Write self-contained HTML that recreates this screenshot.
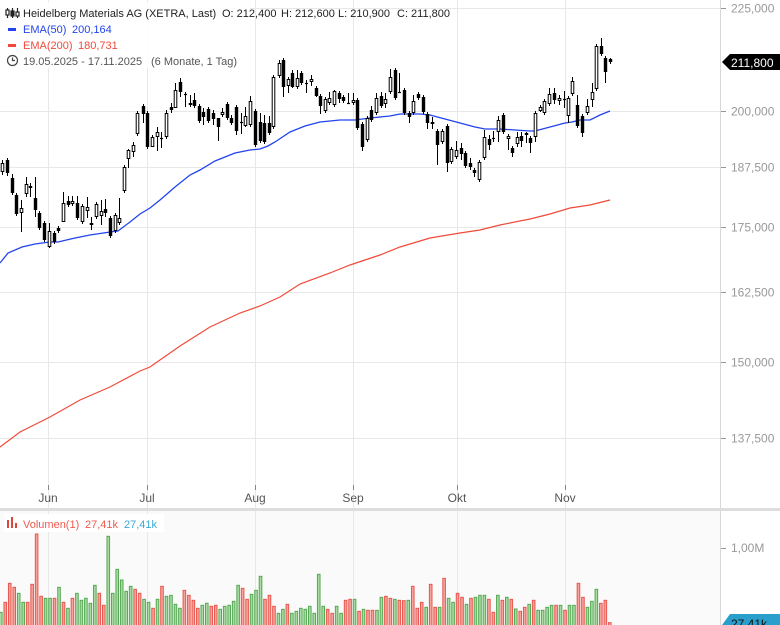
<!DOCTYPE html>
<html><head><meta charset="utf-8">
<style>
html,body{margin:0;padding:0;background:#fff;}
svg{display:block;font-family:"Liberation Sans",Arial,sans-serif;}
text{white-space:pre;}
</style></head>
<body>
<svg id="s" width="780" height="625" viewBox="0 0 780 625" xmlns="http://www.w3.org/2000/svg">
<rect x="0" y="0" width="780" height="625" fill="#fff"/>
<rect x="0" y="511" width="720" height="114" fill="#fafafa"/>
<g id="grid" stroke="#e8e8e8" stroke-width="1"></g>
<line x1="720.5" y1="0" x2="720.5" y2="625" stroke="#d8d8d8"/>
<rect x="0" y="508" width="780" height="3" fill="#ddd"/>
<g id="vol"></g>
<polyline id="ema200" fill="none" stroke="#f04a3a" stroke-width="1.2"/>
<polyline id="ema50" fill="none" stroke="#2244ee" stroke-width="1.3"/>
<g id="labels0" font-size="12"></g>
<g id="candles"></g>
<g id="labels" font-size="12"></g>
<g id="hdr" font-size="11"></g>
</svg>
<script>
var NS="http://www.w3.org/2000/svg";
function el(p,t,a,txt){var e=document.createElementNS(NS,t);for(var k in a)e.setAttribute(k,a[k]);if(txt!==undefined){e.textContent=txt;}p.appendChild(e);return e;}
var g=document.getElementById('grid'),L=document.getElementById('labels'),L0=document.getElementById('labels0'),H=document.getElementById('hdr');
function Y(p){return 8+(Math.log(225000)-Math.log(p))*873;}
var prices=[[225000,"225,000"],[200000,"200,000"],[187500,"187,500"],[175000,"175,000"],[162500,"162,500"],[150000,"150,000"],[137500,"137,500"]];
prices.forEach(function(p){var y=Math.round(Y(p[0]))+0.5;el(g,'line',{x1:0,y1:y,x2:720,y2:y});
 el(L,'line',{x1:721,y1:y,x2:726,y2:y,stroke:'#999'});el(L,'text',{x:731,y:y+4,fill:'#999'},p[1]);});
var months=[[48,"Jun"],[147,"Jul"],[255,"Aug"],[353,"Sep"],[457,"Okt"],[565,"Nov"]];
months.forEach(function(m){el(g,'line',{x1:m[0]+.5,y1:0,x2:m[0]+.5,y2:625});
 el(L,'line',{x1:m[0]+.5,y1:485,x2:m[0]+.5,y2:490,stroke:'#888'});
 el(L,'text',{x:m[0],y:502,fill:'#555','text-anchor':'middle'},m[1]);});
el(L,'line',{x1:721,y1:548.5,x2:726,y2:548.5,stroke:'#999'});
el(L,'text',{x:731,y:552,fill:'#999'},"1,00M");
el(L,'path',{d:"M722 62 L730 54 H780 V70 H730 Z",fill:"#000"});
el(L,'text',{x:731,y:67,fill:'#fff'},"211,800");
el(L,'path',{d:"M722 625 L730 614 H780 V625 Z",fill:"#2a9fcc"});
el(L,'text',{x:731,y:628,fill:'#111'},"27,41k");
var ic=el(H,'g',{stroke:'#222','stroke-width':1.2,fill:'none'});
el(ic,'line',{x1:7.5,y1:8,x2:7.5,y2:18});el(ic,'rect',{x:6,y:10,width:3,height:5,fill:'#fff'});
el(ic,'line',{x1:12.5,y1:8,x2:12.5,y2:18});el(ic,'rect',{x:11,y:11,width:3,height:5,fill:'#222'});
el(ic,'line',{x1:17.5,y1:8,x2:17.5,y2:18});el(ic,'rect',{x:16,y:12,width:3,height:4,fill:'#fff'});
el(L0,'rect',{x:0,y:2,width:250,height:66,fill:'#fff','fill-opacity':0.85});
el(H,'text',{x:23,y:17,fill:'#222'},"Heidelberg Materials AG (XETRA, Last)");
el(H,'text',{x:222,y:17,fill:'#222'},"O: 212,400");
el(H,'text',{x:281,y:17,fill:'#222'},"H: 212,600");
el(H,'text',{x:338,y:17,fill:'#222'},"L: 210,900");
el(H,'text',{x:397,y:17,fill:'#222'},"C: 211,800");
el(H,'rect',{x:8,y:28,width:8,height:3,fill:'#2244ee'});
el(H,'text',{x:23,y:33,fill:'#2244ee'},"EMA(50)");
el(H,'text',{x:72,y:33,fill:'#2244ee'},"200,164");
el(H,'rect',{x:8,y:44,width:8,height:3,fill:'#f04a3a'});
el(H,'text',{x:23,y:49,fill:'#f04a3a'},"EMA(200)");
el(H,'text',{x:78,y:49,fill:'#f04a3a'},"180,731");
el(H,'circle',{cx:12.5,cy:60.5,r:5,fill:'none',stroke:'#444','stroke-width':1.2});
el(H,'path',{d:"M12.5 57.5 V60.5 H15",fill:'none',stroke:'#444','stroke-width':1.2});
el(H,'text',{x:23,y:65,fill:'#555'},"19.05.2025 - 17.11.2025");
el(H,'text',{x:151,y:65,fill:'#555'},"(6 Monate, 1 Tag)");
el(H,'rect',{x:4,y:514,width:160,height:18,fill:'#fff'});
el(H,'rect',{x:7,y:520,width:2,height:8,fill:'#e0453c'});el(H,'rect',{x:11,y:517,width:2,height:11,fill:'#e0453c'});el(H,'rect',{x:15,y:523,width:2,height:5,fill:'#e0453c'});
el(H,'text',{x:23,y:528,fill:'#ee5a50'},"Volumen(1)");
el(H,'text',{x:85,y:528,fill:'#ee5a50'},"27,41k");
el(H,'text',{x:124,y:528,fill:'#3aa7d4'},"27,41k");
document.getElementById('ema50').setAttribute('points',"0,263 8,253 22,247 35,244 50,242 58,242 75,238 90,235 110,232 118,231 130,222 140,214 150,208 160,200 175,187 190,175 200,170 215,161 235,153 250,150 260,149 268,146 275,142 290,132 305,126 320,122 340,120 355,120 370,118 390,116 400,114 420,114 430,115 445,119 460,123 475,127 485,129 500,129 515,130 530,131 535,131 550,127 565,123 572,122 580,120 590,120 600,115 610,111");
document.getElementById('ema200').setAttribute('points',"0,447 20,432 50,417 80,400 110,387 140,371 150,367 180,346 210,327 240,313 260,306 280,297 300,284 330,273 350,265 380,255 400,247 430,238 460,233 480,230 500,225 530,219 550,214 570,208 590,205 610,200");
var C=[[2,163,172,160,175,0],[7,160,173,158,176,1],[12,178,193,174,195,1],[16,195,214,193,216,1],[21,208,213,200,232,0],[26,184,194,177,197,0],[30,186,188,183,197,1],[35,198,210,177,217,1],[39,213,228,211,230,1],[44,223,240,221,242,1],[49,231,247,223,248,0],[54,233,242,231,244,1],[58,228,231,226,233,1],[63,203,222,192,222,0],[68,201,205,196,207,1],[72,201,204,196,206,0],[77,203,218,196,220,1],[82,206,222,204,224,0],[87,207,211,197,218,0],[91,223,225,217,230,0],[96,204,217,202,219,0],[101,211,216,200,225,0],[105,209,213,199,217,1],[110,218,236,216,238,1],[115,215,231,213,233,0],[119,218,223,198,225,0],[124,167,191,165,193,0],[128,150,159,149,168,0],[133,145,152,142,157,0],[137,113,134,111,136,0],[143,106,114,104,123,1],[147,113,147,111,149,1],[152,137,147,135,147,0],[157,132,137,127,151,0],[161,138,138,132,148,2],[166,113,137,110,139,0],[171,107,110,103,113,1],[175,90,108,83,108,0],[180,82,92,78,97,1],[185,94,97,92,107,2],[190,103,105,95,107,0],[194,100,106,93,108,1],[199,106,121,104,123,1],[203,112,117,108,125,1],[208,109,121,107,123,1],[213,113,119,110,125,1],[218,118,127,118,141,1],[222,112,115,108,117,0],[227,104,118,102,120,1],[231,118,123,115,125,1],[236,107,131,105,135,1],[241,122,122,113,134,2],[245,116,126,107,127,0],[250,101,125,96,127,0],[255,111,145,109,147,1],[260,122,141,113,143,1],[264,123,142,115,144,1],[269,123,133,116,135,1],[273,77,127,75,129,0],[279,63,76,60,78,0],[283,60,87,58,97,1],[288,79,86,77,93,0],[292,73,87,70,88,1],[297,78,87,70,89,0],[301,73,83,71,85,1],[306,83,83,80,93,2],[311,79,82,75,86,0],[316,88,96,86,97,1],[320,96,106,94,114,1],[325,99,111,97,113,0],[329,98,103,92,105,0],[334,91,105,90,107,0],[339,93,99,91,103,1],[343,97,101,95,103,1],[348,103,103,93,104,2],[353,100,103,93,105,0],[357,100,128,98,130,1],[362,124,147,122,151,1],[367,118,140,116,142,0],[371,110,120,106,122,1],[376,98,113,93,115,0],[381,96,106,92,108,1],[385,99,104,93,108,0],[390,77,92,69,94,0],[395,70,98,68,100,1],[399,92,92,73,93,2],[404,90,113,88,115,1],[409,113,117,111,123,1],[413,101,113,95,115,0],[418,94,98,92,100,1],[423,97,112,95,114,1],[427,114,123,112,129,1],[432,122,124,117,129,0],[437,131,145,129,165,1],[442,131,142,129,144,0],[447,126,163,124,172,1],[451,149,162,147,164,0],[456,150,157,141,159,0],[461,148,154,143,160,1],[465,153,166,151,168,1],[470,163,167,158,170,1],[474,170,173,168,177,1],[479,162,180,160,182,0],[484,137,158,130,160,0],[489,139,145,135,150,1],[493,138,138,131,142,2],[498,120,132,116,142,0],[503,115,132,113,134,1],[508,136,139,134,150,0],[512,148,153,146,157,1],[517,137,144,132,147,0],[521,136,141,132,147,1],[526,133,135,132,143,1],[530,138,143,136,153,1],[535,113,137,111,142,0],[540,107,111,105,112,0],[544,101,113,99,115,0],[549,94,104,88,106,0],[554,93,100,88,104,1],[559,98,101,95,105,0],[564,99,99,91,108,2],[568,98,116,96,123,0],[572,81,94,77,96,0],[577,105,126,95,128,1],[582,116,133,114,137,1],[587,106,113,99,115,0],[592,92,100,83,107,0],[596,46,89,44,91,0],[601,46,54,38,56,1],[605,58,72,56,83,1],[610,59,62,58,64,1]];
var cg=document.getElementById('candles');
C.forEach(function(c){var x=c[0]+0.5;
 el(cg,'line',{x1:x,y1:c[3],x2:x,y2:c[4],stroke:'#000','stroke-width':1});
 if(c[5]==2){el(cg,'line',{x1:x-1.5,y1:c[1]+.5,x2:x+1.5,y2:c[1]+.5,stroke:'#000','stroke-width':1.2});}
 else if(c[5]==1){el(cg,'rect',{x:x-1.7,y:c[1],width:3.4,height:Math.max(1,c[2]-c[1]),fill:'#000'});}
 else{el(cg,'rect',{x:x-1.3,y:c[1]+.5,width:2.6,height:Math.max(1,c[2]-c[1]-1),fill:'#fff',stroke:'#000','stroke-width':1});}
});
var V="g397 r367 r310 r322 g340 g367 r367 r313 r162 r349 g355 g355 r355 g322 r367 g385 r355 g340 g361 g355 g370 g316 r340 r376 g169 g340 g268 g300 g334 g319 r328 r340 g358 g367 r385 g358 r319 g349 g346 g373 g385 r331 r346 r361 r385 g376 g370 r379 r376 g388 g379 g376 g364 g316 r325 r358 g343 g331 g289 r358 r346 r379 g400 g388 r373 g400 g394 g385 g388 g379 g400 g283 g379 r388 r400 g379 g400 r361 r358 g358 r394 g388 r391 r391 g391 g352 r349 r355 g358 r361 r362 g361 r319 r385 r367 g382 r313 r382 g382 r295 g355 g367 r340 r352 g373 r355 g352 g346 g346 r358 r397 g346 r361 g352 r358 g387 r394 r382 g373 r361 g391 g391 g382 g376 r376 g376 r391 g376 g376 r310 r352 g382 g364 g328 r370 r361 r428".split(" ");
var vg=document.getElementById('vol'),n=V.length,sp=609/(n-1);
V.forEach(function(v,i){var x=i*sp+0.5,top=480+parseInt(v.slice(1))/3,red=v[0]=='r';
 el(vg,'rect',{x:x-1,y:top,width:2.6,height:626-top,fill:red?'#f6a39c':'#a9dba1',stroke:red?'#e8574e':'#55a855','stroke-width':1});});
</script>
</body></html>
